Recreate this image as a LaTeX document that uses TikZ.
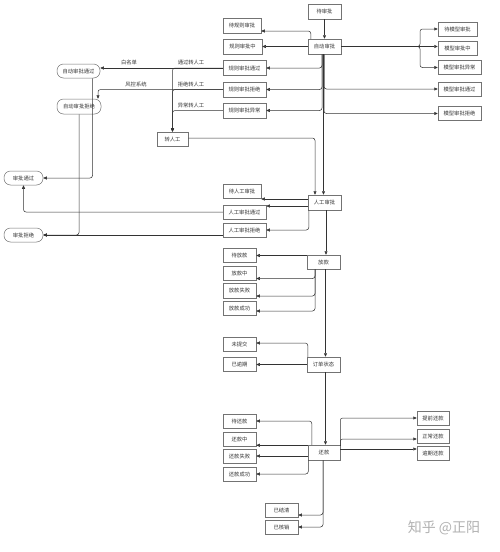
\documentclass[tikz,border=0pt]{standalone}
\usepackage{fontspec}
\newfontfamily\cjk{Noto Sans CJK SC}
\usetikzlibrary{arrows.meta}
\begin{document}
\begin{tikzpicture}[x=1pt,y=-1pt,
  bx/.style={draw=black!55, line width=0.5pt, fill=white, text=black!80, inner sep=0pt,
     font=\cjk\fontsize{5.3}{6}\selectfont},
  rbx/.style={bx, rounded corners=6.5pt},
  lbl/.style={text=black!80, inner sep=0pt, font=\cjk\fontsize{5.3}{6}\selectfont},
  arr/.style={draw=black!80, line width=0.5pt, rounded corners=2.5pt,
     -{Triangle[length=3.5pt,width=3pt]}}]
\useasboundingbox (0,0) rectangle (499,552);
\fill[white] (0,0) rectangle (499,552);
% nodes
\node[bx, minimum width=33pt, minimum height=15pt] (daishenpi) at (324.5,11.5) {待审批};
\node[bx, minimum width=33pt, minimum height=15pt] (zidong) at (324.5,46.5) {自动审批};
\node[bx, minimum width=38pt, minimum height=15pt] (dgz) at (242,25.5) {待规则审批};
\node[bx, minimum width=39pt, minimum height=15pt] (gzz) at (242.5,46.5) {规则审批中};
\node[bx, minimum width=43pt, minimum height=15pt] (gztg) at (244.5,68) {规则审批通过};
\node[bx, minimum width=43pt, minimum height=15pt] (gzjj) at (244.5,89.5) {规则审批拒绝};
\node[bx, minimum width=43pt, minimum height=15pt] (gzyc) at (244.5,110.5) {规则审批异常};
\node[bx, minimum width=39pt, minimum height=14pt] (dmx) at (457.5,29) {待模型审批};
\node[bx, minimum width=39pt, minimum height=14pt] (mxz) at (457.5,48.5) {模型审批中};
\node[bx, minimum width=43pt, minimum height=14pt] (mxyc) at (459.5,67.5) {模型审批异常};
\node[bx, minimum width=43pt, minimum height=14pt] (mxtg) at (459.5,89) {模型审批通过};
\node[bx, minimum width=43pt, minimum height=14pt] (mxjj) at (459.5,113.5) {模型审批拒绝};
\node[rbx, minimum width=43pt, minimum height=14pt] (zdtg) at (78.5,71) {自动审批通过};
\node[rbx, minimum width=44pt, minimum height=15pt] (zdjj) at (79,106.5) {自动审批拒绝};
\node[rbx, minimum width=39pt, minimum height=14pt] (sptg) at (23.5,178) {审批通过};
\node[rbx, minimum width=39pt, minimum height=14pt] (spjj) at (23.5,235) {审批拒绝};
\node[bx, minimum width=31pt, minimum height=14pt] (zrg) at (172.5,139) {转人工};
\node[bx, minimum width=33pt, minimum height=15pt] (rgsp) at (324.5,202.5) {人工审批};
\node[bx, minimum width=38pt, minimum height=14pt] (drg) at (242,191) {待人工审批};
\node[bx, minimum width=43pt, minimum height=14pt] (rgtg) at (244.5,212) {人工审批通过};
\node[bx, minimum width=43pt, minimum height=14pt] (rgjj) at (244.5,230) {人工审批拒绝};
\node[bx, minimum width=33pt, minimum height=14pt] (fk) at (323.5,262) {放款};
\node[bx, minimum width=33pt, minimum height=14pt] (dfk) at (239.5,255) {待放款};
\node[bx, minimum width=33pt, minimum height=14pt] (fkz) at (239.5,273) {放款中};
\node[bx, minimum width=33pt, minimum height=15pt] (fksb) at (239.5,290.5) {放款失败};
\node[bx, minimum width=33pt, minimum height=14pt] (fkcg) at (239.5,308) {放款成功};
\node[bx, minimum width=33pt, minimum height=15pt] (ddzt) at (323.5,364.5) {订单状态};
\node[bx, minimum width=33pt, minimum height=14pt] (wtj) at (239.5,344) {未提交};
\node[bx, minimum width=33pt, minimum height=14pt] (yyq) at (239.5,364.5) {已逾期};
\node[bx, minimum width=32pt, minimum height=15pt] (hk) at (324,452.5) {还款};
\node[bx, minimum width=33pt, minimum height=14pt] (dhk) at (239.5,421) {待还款};
\node[bx, minimum width=33pt, minimum height=14pt] (hkz) at (239.5,439) {还款中};
\node[bx, minimum width=33pt, minimum height=14pt] (hksb) at (239.5,456) {还款失败};
\node[bx, minimum width=33pt, minimum height=14pt] (hkcg) at (239.5,474) {还款成功};
\node[bx, minimum width=33pt, minimum height=14pt] (yjq) at (281.5,510) {已结清};
\node[bx, minimum width=33pt, minimum height=14pt] (yhx) at (281.5,527) {已核销};
\node[bx, minimum width=32pt, minimum height=14pt] (tqhk) at (433,418) {提前还款};
\node[bx, minimum width=32pt, minimum height=14pt] (zchk) at (433,436) {正常还款};
\node[bx, minimum width=32pt, minimum height=14pt] (yqhk) at (433,453) {逾期还款};
% labels
\node[lbl] (l1) at (129,62) {白名单};
\node[lbl] (l2) at (136,84) {风控系统};
\node[lbl] (l3) at (191,62) {通过转人工};
\node[lbl] (l4) at (191,84) {拒绝转人工};
\node[lbl] (l5) at (191,105) {异常转人工};
\node[text=black!30, inner sep=0pt, font=\cjk\fontsize{14}{14}\selectfont] (wm) at (444,528) {知乎 @正阳};
\coordinate (rb) at (420,46.5);
% edges: automatic approval
\draw[arr] (daishenpi) -- (zidong);
\draw[arr] ([xshift=3pt]zidong.north west) |- ([yshift=-5.5pt]dgz.east);
\draw[arr] (zidong.west) -- (zidong.west -| gzz.east);
\draw[arr] ([xshift=-2.5pt]zidong.south) |- (gztg.east);
\draw[arr] ([xshift=-2.5pt]zidong.south) |- (gzjj.east);
\draw[arr] ([xshift=-2.5pt]zidong.south) |- (gzyc.east);
\draw[arr] ([xshift=-0.5pt]zidong.south) |- (mxtg.west);
\draw[arr] ([xshift=-0.5pt]zidong.south) |- (mxjj.west);
\draw[arr] ([xshift=-1pt]zidong.south) -- ([xshift=-1pt]rgsp.north);
\draw[arr, line width=0.8pt] (zidong.east) -- (zidong.east -| mxz.west);
\draw[arr] (zidong.east) -- (rb) |- (dmx.west);
\draw[arr] (zidong.east) -- (rb) |- (mxyc.west);
% rule results
\draw[arr] (gztg.west) -- (zdtg.east |- gztg.west);
\draw[arr] (gztg.west) -| (zrg.north);
\draw[arr] (gzjj.west) -| ([xshift=19pt]zdjj.north);
\draw[arr] (gzjj.west) -| (zrg.north);
\draw[arr] (gzyc.west) -| (zrg.north);
\draw[arr] ([yshift=1pt]zrg.east) -| ([xshift=-9.5pt]rgsp.north);
% final approval
\draw[arr] ([xshift=14pt]zdtg.south) |- (sptg.east);
\draw[arr] (zdjj.south) |- (spjj.east);
\draw[arr] (rgtg.west) -| (sptg.south);
\draw[arr] (rgjj.west |- spjj.east) -- (spjj.east);
% manual approval
\draw[arr] ([yshift=3.5pt]rgsp.west) -- ([yshift=3.5pt]rgsp.west -| drg.east);
\draw[arr] ([yshift=-3.5pt]rgsp.west) -- ([yshift=-3.5pt]rgsp.west -| rgtg.east);
\draw[arr] ([xshift=1pt]rgsp.south west) |- (rgjj.east);
\draw[arr] ([xshift=1.5pt]rgsp.south) -- ([xshift=2.5pt]fk.north);
% loan
\draw[arr] ([yshift=-0.5pt]fk.west |- dfk.east) -- ([yshift=-0.5pt]dfk.east);
\draw[arr] ([xshift=-8.5pt]fk.south) |- ([yshift=-5.5pt]fkz.east);
\draw[arr] ([xshift=-8.5pt]fk.south) |- ([yshift=-5.5pt]fksb.east);
\draw[arr] ([xshift=-8.5pt]fk.south) |- ([yshift=-3pt]fkcg.east);
\draw[arr] ([xshift=2pt]fk.south) -- ([xshift=2pt]ddzt.north);
% order status
\draw[arr] ([xshift=1pt]ddzt.north west) |- ([yshift=1pt]wtj.east);
\draw[arr] (ddzt.west) -- (ddzt.west -| yyq.east);
\draw[arr] ([xshift=2pt]ddzt.south) -- ([xshift=1.5pt]hk.north);
% repayment
\draw[arr] ([xshift=4pt]hk.north west) |- (dhk.east);
\draw[arr] ([yshift=-0.5pt]hk.north west) -- ([yshift=-0.5pt]hk.north west -| hkz.east);
\draw[arr] (hk.west |- hksb.east) -- (hksb.east);
\draw[arr] ([xshift=0.5pt]hk.south west) |- (hkcg.east);
\draw[arr] ([xshift=-1pt]hk.south) |- ([yshift=-5pt]yjq.east);
\draw[arr] ([xshift=-1pt]hk.south) |- (yhx.east);
\draw[arr] ([yshift=-1pt]hk.north east) |- (tqhk.west);
\draw[arr] ([yshift=-1pt]hk.north east) |- ([yshift=-3pt]zchk.west);
\draw[arr] ([yshift=3.5pt]hk.east) -- ([yshift=3.5pt]hk.east -| yqhk.west);
\end{tikzpicture}
\end{document}
